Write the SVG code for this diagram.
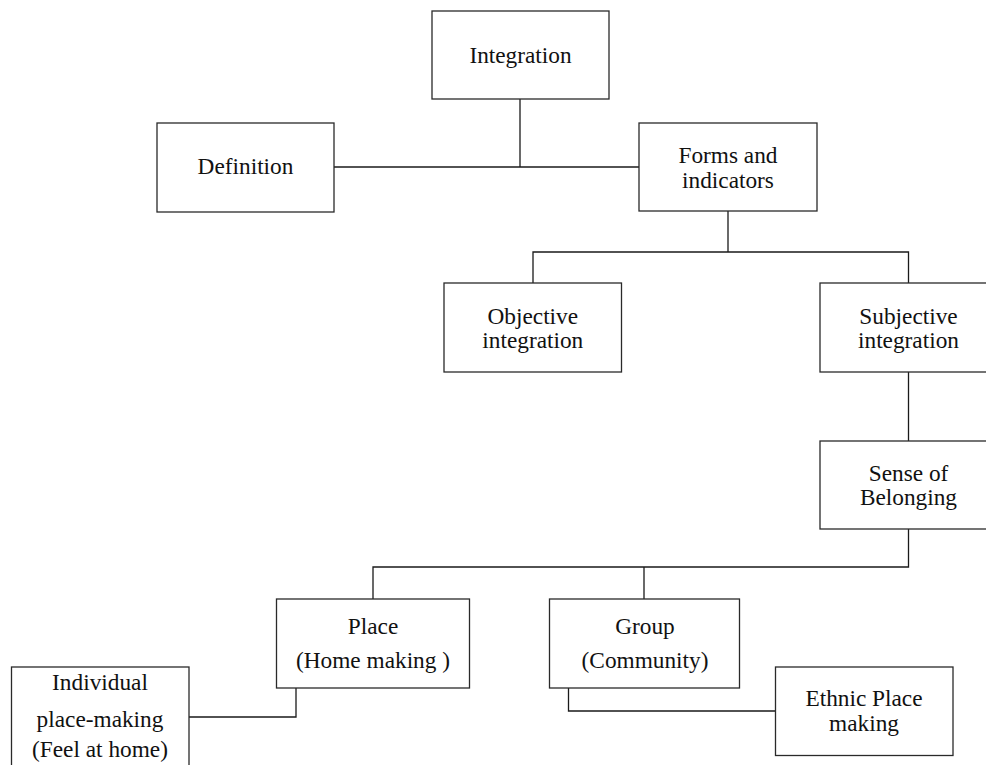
<svg xmlns="http://www.w3.org/2000/svg" width="986" height="765" viewBox="0 0 986 765">
  <style>
    .box { fill: #ffffff; stroke: #2a2a2a; stroke-width: 1.3; }
    .link { fill: none; stroke: #1a1a1a; stroke-width: 1.3; }
    .label { font-size: 23.3px; fill: #111111; text-anchor: middle; }
  </style>
  <rect width="986" height="765" fill="#ffffff"/>

  <!-- connectors -->
  <g id="connectors">
    <polyline class="link" points="520,99 520,167"/>
    <polyline class="link" points="334,167 639,167"/>
    <polyline class="link" points="728,211 728,252"/>
    <polyline class="link" points="533,283 533,252 908.5,252 908.5,283"/>
    <polyline class="link" points="908.5,372 908.5,441"/>
    <polyline class="link" points="908.5,529 908.5,567 373,567 373,599"/>
    <polyline class="link" points="644,567 644,599"/>
    <polyline class="link" points="296,688 296,717 189,717"/>
    <polyline class="link" points="568.5,688 568.5,711 775,711"/>
  </g>

  <g font-family="'Liberation Serif', 'Times New Roman', 'DejaVu Serif', serif">
  <g id="integration">
    <rect class="box" x="432" y="11" width="177" height="88"/>
    <text class="label" x="520.5" y="63">Integration</text>
  </g>

  <g id="definition">
    <rect class="box" x="157" y="123" width="177" height="89"/>
    <text class="label" x="245.5" y="174">Definition</text>
  </g>

  <g id="forms-indicators">
    <rect class="box" x="639" y="123" width="178" height="88"/>
    <text class="label" x="728" y="163">Forms and</text>
    <text class="label" x="728" y="187.5">indicators</text>
  </g>

  <g id="objective-integration">
    <rect class="box" x="444" y="283" width="177.5" height="89"/>
    <text class="label" x="532.8" y="323.5">Objective</text>
    <text class="label" x="532.8" y="348.3">integration</text>
  </g>

  <g id="subjective-integration">
    <rect class="box" x="820" y="283" width="177" height="89"/>
    <text class="label" x="908.5" y="323.5">Subjective</text>
    <text class="label" x="908.5" y="348.3">integration</text>
  </g>

  <g id="sense-of-belonging">
    <rect class="box" x="820" y="441" width="177" height="88"/>
    <text class="label" x="908.5" y="480.5">Sense of</text>
    <text class="label" x="908.5" y="505">Belonging</text>
  </g>

  <g id="place">
    <rect class="box" x="276.5" y="599" width="193" height="89"/>
    <text class="label" x="373" y="634.3">Place</text>
    <text class="label" x="373" y="668.3">(Home making )</text>
  </g>

  <g id="group">
    <rect class="box" x="549.5" y="599" width="190" height="89"/>
    <text class="label" x="645" y="634.3">Group</text>
    <text class="label" x="645" y="668.3">(Community)</text>
  </g>

  <g id="individual-place-making">
    <rect class="box" x="11.5" y="667" width="177.5" height="110"/>
    <text class="label" x="100" y="690">Individual</text>
    <text class="label" x="100" y="726.5">place-making</text>
    <text class="label" x="100" y="757">(Feel at home)</text>
  </g>

  <g id="ethnic-place-making">
    <rect class="box" x="775.5" y="667" width="177.5" height="88.5"/>
    <text class="label" x="864" y="706">Ethnic Place</text>
    <text class="label" x="864" y="730.7">making</text>
  </g>
  </g>
</svg>
